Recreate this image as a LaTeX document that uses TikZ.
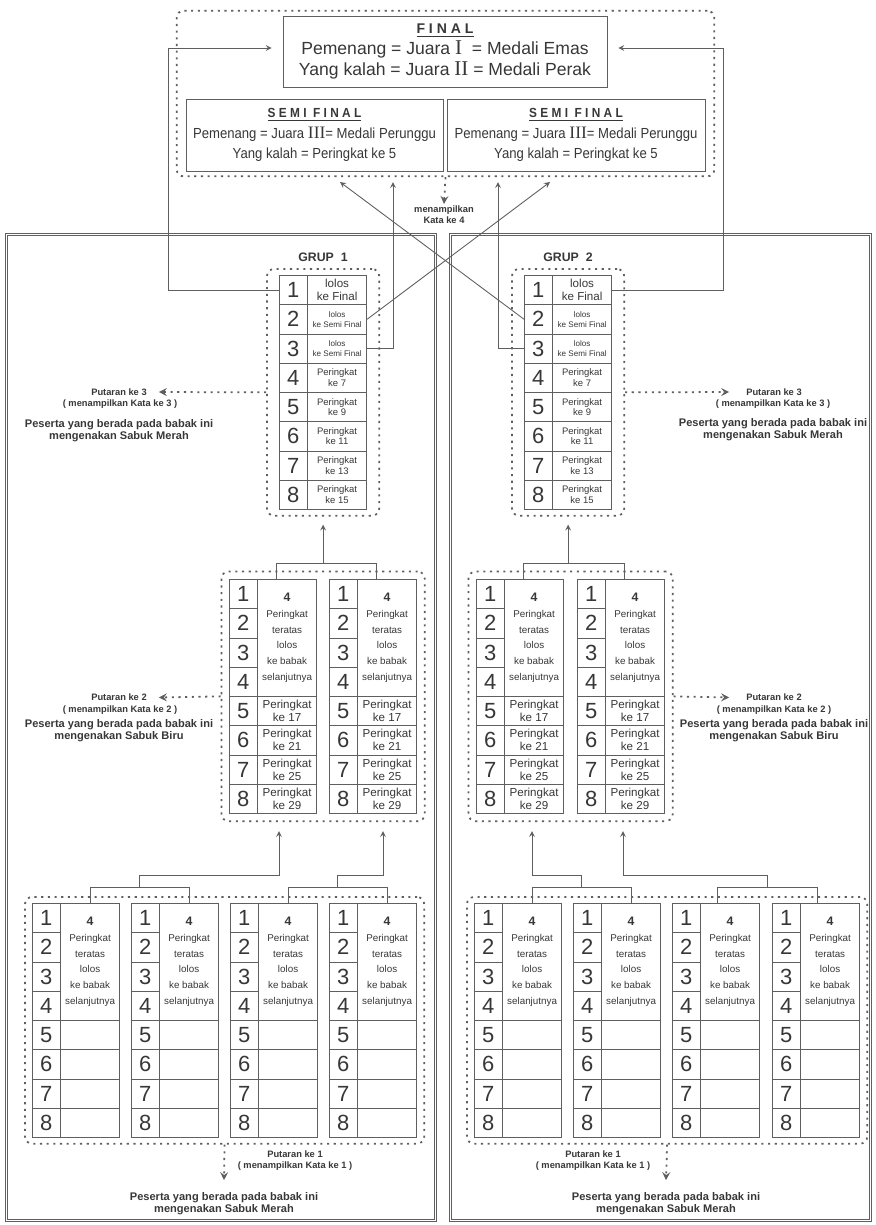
\documentclass[tikz,border=0pt]{standalone}
\usepackage{fontspec}
\setmainfont{Liberation Sans}
\newfontfamily\narrowfont[FakeStretch=0.9]{Liberation Sans}
\newfontfamily\romanfont[Scale=1.2]{Liberation Serif}
\usetikzlibrary{positioning}
\usetikzlibrary{fit, arrows}
\definecolor{linegray}{RGB}{95,95,95}
\definecolor{textgray}{RGB}{55,55,55}
\tikzstyle{grupframe} = [draw=linegray, line width=0.5pt, double, double distance=1.1pt]
\tikzstyle{dotbox} = [rectangle, rounded corners=4pt, draw=linegray, line width=1pt,
dash pattern=on 1.2pt off 2.6pt]
\tikzstyle{finalbox} = [rectangle, draw=linegray, align=center, text=textgray, inner sep=0pt]
\tikzstyle{numcell} = [rectangle, draw=linegray, anchor=north west,
minimum width=0.56cm, minimum height=0.585cm, inner sep=0pt,
text=textgray, font=\fontsize{12.5}{13}\selectfont]
\tikzstyle{txtcell} = [rectangle, draw=linegray, anchor=north west,
minimum width=1.19cm, minimum height=0.585cm, inner sep=0pt,
align=center, text=textgray]
\tikzstyle{blockcell} = [txtcell, minimum height=2.34cm, font=\fontsize{5.6}{9}\selectfont]
\tikzstyle{grup} = [font=\fontsize{7}{8}\selectfont\bfseries, text=textgray]
\tikzstyle{note} = [font=\fontsize{5.3}{6.2}\selectfont\bfseries, text=textgray, align=center, inner sep=1pt]
\tikzstyle{sabuk} = [font=\fontsize{6.3}{6.9}\selectfont\bfseries, text=textgray, align=center, inner sep=1pt]
\tikzstyle{bracket} = [draw=linegray, line width=0.5pt]
\tikzstyle{arrow} = [draw=linegray, line width=0.5pt, ->, >=stealth]
\tikzstyle{dotarrow} = [draw=linegray, line width=1pt, dash pattern=on 1.2pt off 2.6pt, ->, >=stealth]

\begin{document}
\begin{tikzpicture}[x=0.02cm, y=-0.02cm]
\useasboundingbox (0,0) rectangle (876,1225);

% group frames
\draw [grupframe] (6.5,234.5) rectangle (435.5,1220.5);
\draw [grupframe] (450.5,234.5) rectangle (870.5,1220.5);

% final and semi final
\node (final) [finalbox, minimum width=6.48cm, minimum height=1.42cm,
  font=\fontsize{10}{12}\selectfont] at (445,51.5)
  {{\fontsize{8}{10}\selectfont\bfseries\underline{F I N A L}}\\
   Pemenang = Juara {\romanfont I}\ \ = Medali Emas\\
   Yang kalah = Juara {\romanfont II} = Medali Perak};
\node (semiL) [finalbox, minimum width=5.14cm, minimum height=1.44cm,
  font=\fontsize{8.3}{11}\narrowfont] at (314.5,135)
  {{\fontsize{7.5}{9}\selectfont\bfseries\underline{S E M I \ F I N A L}}\\[1pt]
   Pemenang = Juara {\romanfont III}= Medali Perunggu\\
   Yang kalah = Peringkat ke 5};
\node (semiR) [finalbox, minimum width=5.16cm, minimum height=1.44cm,
  font=\fontsize{8.3}{11}\narrowfont] at (576,135)
  {{\fontsize{7.5}{9}\selectfont\bfseries\underline{S E M I \ F I N A L}}\\[1pt]
   Pemenang = Juara {\romanfont III}= Medali Perunggu\\
   Yang kalah = Peringkat ke 5};
\node (top-box) [dotbox, fit=(final)(semiL)(semiR), inner xsep=0.18cm, inner ysep=0.1cm] {};
\node (kata4) [note] at (444,215) {menampilkan\\Kata ke 4};

% round 3 tables
\node (grup1) [grup] at (323,257) {GRUP\ \ 1};
\node (grup2) [grup] at (568,257) {GRUP\ \ 2};
\foreach \g/\x in {g1top/279, g2top/524} {
  \foreach \i in {1,...,8}
    \node (\g-n\i) [numcell] at (\x, {275+(\i-1)*29.25}) {\i};
  \node (\g-t1) [txtcell, font=\fontsize{6.6}{7.6}\selectfont] at ({\x+28}, 275) {lolos\\ke Final};
  \node (\g-t2) [txtcell, font=\fontsize{4.6}{5.7}\selectfont] at ({\x+28}, 304.25) {lolos\\ke Semi Final};
  \node (\g-t3) [txtcell, font=\fontsize{4.6}{5.7}\selectfont] at ({\x+28}, 333.5) {lolos\\ke Semi Final};
  \foreach \i/\k in {4/7, 5/9, 6/11, 7/13, 8/15}
    \node (\g-t\i) [txtcell, font=\fontsize{5.4}{6.1}\selectfont] at ({\x+28}, {275+(\i-1)*29.25}) {Peringkat\\ke \k};
  \node (\g-box) [dotbox, fit=(\g-n1)(\g-t8), inner xsep=0.24cm, inner ysep=0.12cm] {};
}

% round 2 tables
\foreach \tb/\x in {g1midA/229, g1midB/329, g2midA/476, g2midB/577} {
  \foreach \i in {1,...,8}
    \node (\tb-n\i) [numcell] at (\x, {579+(\i-1)*29.25}) {\i};
  \node (\tb-blk) [blockcell] at ({\x+28}, 579)
    {{\fontsize{7}{9}\selectfont\bfseries 4}\\Peringkat\\teratas\\lolos\\ke babak\\selanjutnya};
  \foreach \i/\k in {5/17, 6/21, 7/25, 8/29}
    \node (\tb-t\i) [txtcell, font=\fontsize{6.6}{7.4}\selectfont] at ({\x+28}, {579+(\i-1)*29.25}) {Peringkat\\ke \k};
}
\node (g1mid-box) [dotbox, fit=(g1midA-n1)(g1midB-t8), inner xsep=0.15cm, inner ysep=0.15cm] {};
\node (g2mid-box) [dotbox, fit=(g2midA-n1)(g2midB-t8), inner xsep=0.15cm, inner ysep=0.15cm] {};

% round 1 tables
\foreach \tb/\x in {g1botA/32, g1botB/131, g1botC/230, g1botD/329, g2botA/474, g2botB/573, g2botC/672, g2botD/772} {
  \foreach \i in {1,...,8}
    \node (\tb-n\i) [numcell] at (\x, {903+(\i-1)*29.25}) {\i};
  \node (\tb-blk) [blockcell] at ({\x+28}, 903)
    {{\fontsize{7}{9}\selectfont\bfseries 4}\\Peringkat\\teratas\\lolos\\ke babak\\selanjutnya};
  \foreach \i in {5,...,8}
    \node (\tb-t\i) [txtcell] at ({\x+28}, {903+(\i-1)*29.25}) {};
}
\node (g1bot-box) [dotbox, fit=(g1botA-n1)(g1botD-t8), inner xsep=0.14cm, inner ysep=0.12cm] {};
\node (g2bot-box) [dotbox, fit=(g2botA-n1)(g2botD-t8), inner xsep=0.14cm, inner ysep=0.12cm] {};

% side notes
\node (put3L) [note] at (119,392) {Putaran ke 3};
\node (kata3L) [note] at (120,404) {( menampilkan Kata ke 3 )};
\node (sabuk3L) [sabuk] at (119,431) {Peserta yang berada pada babak ini\\mengenakan Sabuk Merah};
\node (put3R) [note] at (774,392) {Putaran ke 3};
\node (kata3R) [note] at (773,404) {( menampilkan Kata ke 3 )};
\node (sabuk3R) [sabuk] at (773,430) {Peserta yang berada pada babak ini\\mengenakan Sabuk Merah};
\node (put2L) [note] at (119,697.5) {Putaran ke 2};
\node (kata2L) [note] at (120,710) {( menampilkan Kata ke 2 )};
\node (sabuk2L) [sabuk] at (119,730.5) {Peserta yang berada pada babak ini\\mengenakan Sabuk Biru};
\node (put2R) [note] at (774,697.5) {Putaran ke 2};
\node (kata2R) [note] at (774,710) {( menampilkan Kata ke 2 )};
\node (sabuk2R) [sabuk] at (774,730.5) {Peserta yang berada pada babak ini\\mengenakan Sabuk Biru};
\node (put1L) [note] at (295,1161) {Putaran ke 1\\( menampilkan Kata ke 1 )};
\node (sabuk1L) [sabuk] at (224,1203.5) {Peserta yang berada pada babak ini\\mengenakan Sabuk Merah};
\node (put1R) [note] at (593,1161) {Putaran ke 1\\( menampilkan Kata ke 1 )};
\node (sabuk1R) [sabuk] at (666,1203.5) {Peserta yang berada pada babak ini\\mengenakan Sabuk Merah};

% arrow ends
\coordinate (finL) at ([xshift=-0.22cm, yshift=0.07cm]final.west);
\coordinate (finR) at ([xshift=0.22cm, yshift=0.07cm]final.east);
\coordinate (semiA) at (340,182);
\coordinate (semiB) at (393,182);
\coordinate (semiC) at (498,182);
\coordinate (semiD) at (550,182);
\coordinate (g1midA-in) at (279,831);
\coordinate (g1midB-in) at (383,831);
\coordinate (g2midA-in) at (532,831);
\coordinate (g2midB-in) at (623,831);

% to final and semi final
\draw [arrow] (g1top-n1.west) -| ([xshift=-2.06cm]finL) -- (finL);
\draw [arrow] (g2top-t1.east) -| ([xshift=2.1cm]finR) -- (finR);
\draw [arrow] (g2top-n2.west) -- (semiA);
\draw [arrow] (g1top-t3.east) -| (semiB);
\draw [arrow] (g2top-n3.west) -| (semiC);
\draw [arrow] (g1top-t2.east) -- (semiD);

% round 2 to round 3
\draw [bracket] ([xshift=-0.22cm]g1midA-blk.north) -- ++(0,-16) coordinate (g1mid-br) -| ([xshift=-0.22cm]g1midB-blk.north);
\draw [bracket] ([xshift=-0.22cm]g2midA-blk.north) -- ++(0,-16) coordinate (g2mid-br) -| ([xshift=-0.22cm]g2midB-blk.north);
\draw [arrow, shorten >=0.16cm] (g1top-box.south |- g1mid-br) -- (g1top-box.south);
\draw [arrow, shorten >=0.16cm] (g2top-box.south |- g2mid-br) -- (g2top-box.south);

% round 1 to round 2
\draw [bracket] (g1botA-blk.north) -- ++(0,-16) -| coordinate[pos=0.25] (g1botAB) (g1botB-blk.north);
\draw [bracket] (g1botC-blk.north) -- ++(0,-16) -| coordinate[pos=0.25] (g1botCD) (g1botD-blk.north);
\draw [bracket] (g2botA-blk.north) -- ++(0,-16) -| coordinate[pos=0.25] (g2botAB) (g2botB-blk.north);
\draw [bracket] ([xshift=-0.26cm]g2botC-blk.north) -- ++(0,-16) -| coordinate[pos=0.25] (g2botCD) ([xshift=-0.26cm]g2botD-blk.north);
\draw [arrow] (g1botAB) -- ++(0,-12) -| (g1midA-in);
\draw [arrow] (g1botCD) -- ++(0,-12) -| (g1midB-in);
\draw [arrow] (g2botAB) -- ++(0,-12) -| (g2midA-in);
\draw [arrow] (g2botCD) -- ++(0,-12) -| (g2midB-in);

% dotted notes
\draw [dotarrow] (top-box.south) -- (kata4.north);
\draw [dotarrow] (g1top-box.west) -- ([xshift=0.2cm]put3L.east);
\draw [dotarrow] (g2top-box.east) -- ([xshift=-0.3cm]put3R.west);
\draw [dotarrow] (g1mid-box.west) -- ([xshift=0.2cm]put2L.east);
\draw [dotarrow] (g2mid-box.east) -- ([xshift=-0.3cm]put2R.west);
\draw [dotarrow] (g1bot-box.south) -- ([yshift=0.2cm]sabuk1L.north);
\draw [dotarrow] (g2bot-box.south) -- ([yshift=0.2cm]sabuk1R.north);
\end{tikzpicture}
\end{document}
